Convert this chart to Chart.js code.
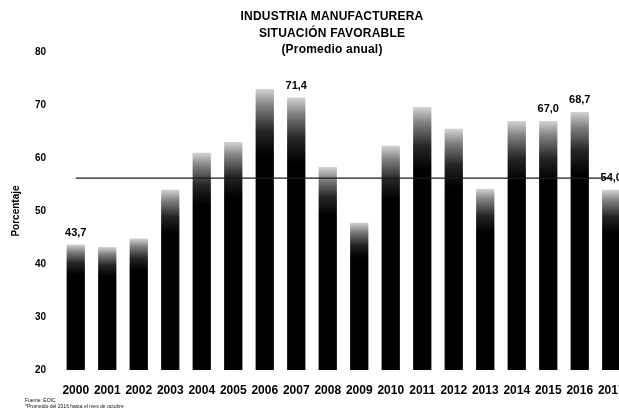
<!DOCTYPE html>
<html>
<head>
<meta charset="utf-8">
<script src="https://cdn.jsdelivr.net/npm/chart.js@4/dist/chart.umd.min.js"></script>
<style>
  html, body { margin: 0; padding: 0; background: #fff; overflow: hidden; }
  #clip { position: relative; width: 619px; height: 415px; overflow: hidden; }
  #c { position: absolute; left: 0; top: 0; }
  .title { position: absolute; left: 232px; width: 200px; text-align: center; font-family: "Liberation Sans", Arial, sans-serif; font-weight: bold; font-size: 12px; letter-spacing: 0.2px; color: #000; white-space: nowrap; line-height: 12px; }
  .note { position: absolute; left: 25px; font-family: "Liberation Sans", Arial, sans-serif; font-size: 5px; color: #111; white-space: nowrap; line-height: 5px; }
</style>
</head>
<body>
<div id="clip">
<canvas id="c" width="630" height="415" style="width:630px;height:415px"></canvas>
<div class="title" style="top:10px">INDUSTRIA MANUFACTURERA</div>
<div class="title" style="top:27px">SITUACIÓN FAVORABLE</div>
<div class="title" style="top:43px">(Promedio anual)</div>
<div class="note" style="top:398px">Fuente: EOIC</div>
<div class="note" style="top:404px">*Promedio del 2016 hasta el mes de octubre</div>
</div>
<script>
const years = ['2000','2001','2002','2003','2004','2005','2006','2007','2008','2009','2010','2011','2012','2013','2014','2015','2016','2017'];
const favorable = [43.7, 43.2, 44.8, 54.0, 61.0, 63.0, 73.0, 71.4, 58.3, 47.8, 62.3, 69.6, 65.5, 54.2, 67.0, 67.0, 68.7, 54.0];
const promedio = [56.2, 56.2, 56.2, 56.2, 56.2, 56.2, 56.2, 56.2, 56.2, 56.2, 56.2, 56.2, 56.2, 56.2, 56.2, 56.2, 56.2, 56.2];
const labeledYears = ['2000', '2007', '2015', '2016', '2017'];
const yTicks = [20, 30, 40, 50, 60, 70, 80];

const FONT = '"Liberation Sans", Arial, sans-serif';

const valueLabels = {
  id: 'valueLabels',
  afterDatasetsDraw(chart) {
    const meta = chart.getDatasetMeta(1);
    const ctx = chart.ctx;
    ctx.save();
    ctx.font = 'bold 11px ' + FONT;
    ctx.fillStyle = '#000';
    ctx.textAlign = 'center';
    ctx.textBaseline = 'bottom';
    meta.data.forEach((el, i) => {
      if (labeledYears.includes(years[i])) {
        const txt = favorable[i].toFixed(1).replace('.', ',');
        ctx.fillText(txt, el.x, el.y - 6);
      }
    });
    ctx.restore();
  }
};

new Chart(document.getElementById('c'), {
  data: {
    labels: years,
    datasets: [
      {
        type: 'line',
        data: promedio,
        borderColor: '#1a1a1a',
        borderWidth: 1.3,
        pointRadius: 0,
        order: 0
      },
      {
        type: 'bar',
        data: favorable,
        barPercentage: 0.58,
        categoryPercentage: 1.0,
        order: 1,
        backgroundColor: (ctx) => {
          const chart = ctx.chart;
          if (!chart.chartArea || ctx.dataIndex === undefined) return '#000';
          const yScale = chart.scales.y;
          const top = yScale.getPixelForValue(favorable[ctx.dataIndex]);
          const bottom = chart.chartArea.bottom;
          const g = chart.ctx.createLinearGradient(0, top, 0, bottom);
          g.addColorStop(0, '#d4d4d4');
          g.addColorStop(0.06, '#808080');
          g.addColorStop(0.15, '#252525');
          g.addColorStop(0.24, '#000');
          g.addColorStop(1, '#000');
          return g;
        }
      }
    ]
  },
  options: {
    responsive: false,
    animation: false,
    layout: { padding: { top: 52, right: 3, left: 0, bottom: 0 } },
    plugins: { legend: { display: false }, tooltip: { enabled: false }, title: { display: false } },
    scales: {
      x: {
        grid: { display: false, drawTicks: false },
        border: { display: false },
        ticks: { color: '#000', font: { family: FONT, size: 12, weight: 'bold' }, padding: 13, maxRotation: 0, autoSkip: false },
        afterFit: (s) => { s.height = 45; s.paddingLeft = 0; s.paddingRight = 0; }
      },
      y: {
        min: 20,
        max: 80,
        grid: { display: false, drawTicks: false },
        border: { display: false },
        afterBuildTicks: (s) => { s.ticks = yTicks.map(v => ({ value: v })); },
        ticks: { color: '#000', font: { family: FONT, size: 10, weight: 'bold' }, padding: 14 },
        title: { display: true, text: 'Porcentaje', color: '#000', font: { family: FONT, size: 10, weight: 'bold' }, padding: { top: 10, bottom: 0 } },
        afterFit: (s) => { s.width = 60; s.paddingTop = 0; s.paddingBottom = 0; }
      }
    }
  },
  plugins: [valueLabels]
});
</script>
</body>
</html>
